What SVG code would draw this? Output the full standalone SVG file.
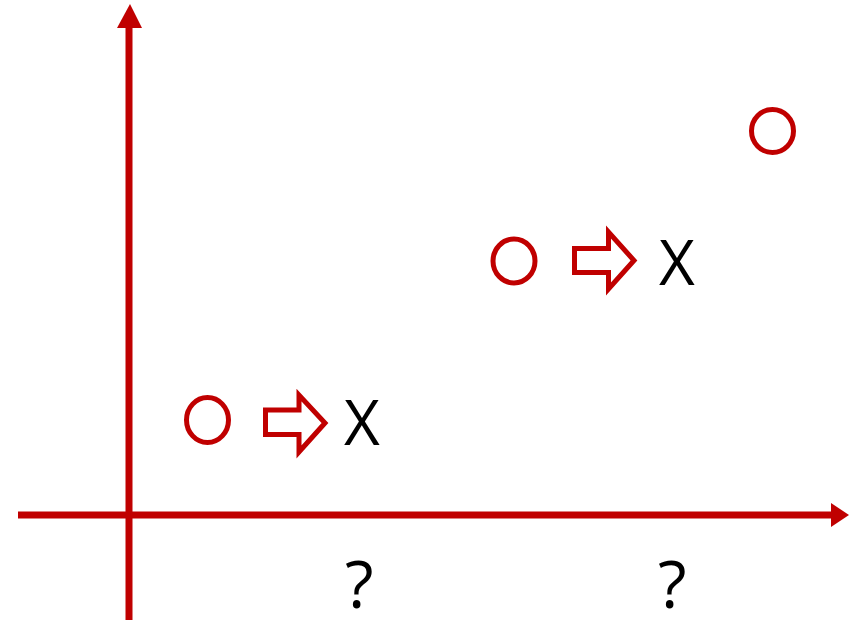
<svg xmlns="http://www.w3.org/2000/svg" width="849" height="621" viewBox="0 0 849 621">
<style>
.ax{stroke:#C00000;stroke-width:7;fill:none}
.head{fill:#C00000}
.c{fill:none;stroke:#C00000;stroke-width:5}
.blk{fill:none;stroke:#C00000;stroke-width:5;stroke-miterlimit:10}
.t{font-family:"Open Sans","Noto Sans",sans-serif;fill:#000}
</style>
<rect width="849" height="621" fill="#fff"/>
<g id="axes">
<line class="ax" x1="129" y1="620" x2="129" y2="24"/>
<polygon class="head" points="130,4 117,28 142,28"/>
<line class="ax" x1="18" y1="515" x2="834" y2="515"/>
<polygon class="head" points="849,515 831,503 831,527"/>
</g>
<g id="p1">
<ellipse class="c" cx="207.5" cy="420" rx="21" ry="22.5"/>
<polygon class="blk" points="265.5,410 299,410 299,395 325,423 299,452 299,434.5 265.5,434.5"/>
<text class="t" x="344" y="445" font-size="62">X</text>
</g>
<g id="p2">
<ellipse class="c" cx="514" cy="261" rx="21" ry="22"/>
<polygon class="blk" points="574.5,248.5 608.5,248.5 608.5,232 634,260.5 608.5,289 608.5,272.5 574.5,272.5"/>
<text class="t" x="659" y="285" font-size="62">X</text>
</g>
<g id="p3">
<ellipse class="c" cx="772.5" cy="131" rx="21" ry="21.5"/>
</g>
<g id="labels">
<text class="t" x="345" y="608" font-size="66">?</text>
<text class="t" x="658" y="608" font-size="66">?</text>
</g>
</svg>
